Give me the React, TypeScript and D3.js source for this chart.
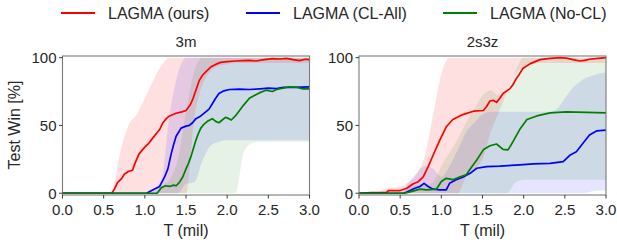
import React from 'react';
import * as d3 from 'd3';

// legend / series
const seriesNames = ['LAGMA (ours)', 'LAGMA (CL-All)', 'LAGMA (No-CL)'];
const seriesColors = ['#ff0000', '#0000ff', '#008000'];
const bandOpacity = [0.12, 0.1, 0.1];

const xTicks = [0, 0.5, 1.0, 1.5, 2.0, 2.5, 3.0];
const yTicks = [0, 50, 100];

// grid used for the shaded bands (T in million steps)
const bandT = [0, 0.1, 0.2, 0.3, 0.4, 0.5, 0.6, 0.7, 0.8, 0.9, 1.0, 1.1, 1.2, 1.3, 1.4, 1.5,
  1.6, 1.7, 1.8, 1.9, 2.0, 2.1, 2.2, 2.3, 2.4, 2.5, 2.6, 2.7, 2.8, 2.9, 3.0];

// ---- 3m ----
const ours3m: [number, number][] = [[0, 0], [0.6, 0], [0.63, 3], [0.67, 8], [0.72, 11], [0.75, 14], [0.8, 16], [0.85, 17],
  [0.88, 22], [0.93, 29], [1.0, 34], [1.05, 37], [1.1, 41], [1.18, 47], [1.22, 52], [1.26, 55], [1.3, 57], [1.38, 59],
  [1.45, 60], [1.5, 61], [1.55, 65], [1.58, 69], [1.62, 76], [1.66, 83], [1.7, 87], [1.74, 89.5], [1.8, 93], [1.86, 95],
  [1.92, 96.5], [2.0, 97], [2.1, 97.5], [2.2, 97.8], [2.27, 98], [2.35, 97.5], [2.45, 98.5], [2.55, 99.3], [2.65, 99],
  [2.72, 99.5], [2.8, 98.5], [2.88, 97.8], [2.95, 98.8], [3.0, 98.5]];
const clAll3m: [number, number][] = [[0, 0], [1.02, 0], [1.1, 2.5], [1.18, 5], [1.24, 12], [1.28, 18], [1.32, 29], [1.35, 36],
  [1.38, 42], [1.44, 48], [1.5, 49.5], [1.54, 50], [1.58, 52], [1.62, 55], [1.68, 57], [1.74, 60], [1.78, 62], [1.82, 66],
  [1.86, 70], [1.9, 73.5], [1.96, 75.5], [2.03, 76.5], [2.15, 76.8], [2.27, 76.5], [2.4, 77], [2.5, 77.5], [2.6, 77.2],
  [2.68, 78], [2.8, 78], [2.9, 78.2], [3.0, 78.5]];
const noCl3m: [number, number][] = [[0, 0], [1.15, 0], [1.2, 4], [1.25, 5.5], [1.3, 5], [1.35, 6], [1.38, 5.5], [1.42, 8],
  [1.46, 12], [1.5, 18], [1.53, 22], [1.56, 27], [1.59, 33], [1.62, 39], [1.65, 44], [1.68, 48], [1.72, 51], [1.76, 53],
  [1.82, 55], [1.86, 53], [1.9, 52], [1.94, 54], [1.98, 56], [2.02, 55], [2.05, 54], [2.1, 57], [2.15, 61], [2.2, 65],
  [2.27, 70], [2.33, 72], [2.39, 74], [2.47, 76], [2.55, 75], [2.6, 76.5], [2.68, 77.5], [2.76, 78.5], [2.85, 78],
  [2.92, 77], [3.0, 77]];

const oursLo3m = [0, 0, 0, 0, 0, 0, 0, 0, 0, 0, 0, 0, 0, 0, 0, 0, 55, 80, 90, 94, 95, 96, 96, 96, 96, 96, 96, 96, 96, 96, 96];
const oursHi3m = [0, 0, 0, 0, 0, 0, 2, 30, 50, 58, 70, 83, 94, 100, 100, 100, 100, 100, 100, 100, 100, 100, 100, 100, 100, 100, 100, 100, 100, 100, 100];
const clAllLo3m = [0, 0, 0, 0, 0, 0, 0, 0, 0, 0, 0, 0, 0, 0, 0, 7, 8, 24, 35, 38, 39, 39, 39, 39, 39, 39, 39, 39, 39, 39, 39];
const clAllHi3m = [0, 0, 0, 0, 0, 0, 0, 0, 0, 0, 0, 3, 10, 58, 88, 100, 100, 100, 100, 100, 100, 100, 100, 100, 100, 100, 100, 100, 100, 100, 100];
const noClLo3m = [0, 0, 0, 0, 0, 0, 0, 0, 0, 0, 0, 0, 0, 0, 0, 0, 0, 0, 0, 0, 0, 0, 30, 37, 38, 38, 38, 38, 38, 38, 38];
const noClHi3m = [0, 0, 0, 0, 0, 0, 0, 0, 0, 0, 0, 0, 5, 10, 25, 60, 90, 100, 100, 100, 100, 100, 100, 100, 100, 100, 100, 100, 100, 100, 100];

// ---- 2s3z ----
const ours2s3z: [number, number][] = [[0, 0], [0.15, 0.5], [0.33, 0.5], [0.36, 2], [0.5, 2], [0.58, 3.7], [0.66, 7], [0.72, 8.5],
  [0.78, 12], [0.84, 19.6], [0.9, 28], [0.98, 39], [1.06, 49], [1.14, 54.4], [1.26, 58], [1.39, 60.5], [1.51, 61],
  [1.55, 64], [1.59, 68], [1.63, 68.5], [1.67, 67], [1.71, 70], [1.75, 73.5], [1.83, 77], [1.87, 80], [1.91, 84.5],
  [1.95, 88], [1.99, 92], [2.08, 95.6], [2.2, 98.5], [2.32, 99.5], [2.44, 100], [2.52, 99.6], [2.6, 98.5], [2.68, 97.5],
  [2.74, 98], [2.8, 98.8], [2.9, 99.5], [3.0, 100]];
const clAll2s3z: [number, number][] = [[0, 0], [0.55, 0], [0.62, 2], [0.68, 3.7], [0.74, 5], [0.79, 7.3], [0.84, 5], [0.9, 3],
  [0.98, 2.5], [1.06, 2.5], [1.1, 7.3], [1.18, 10], [1.26, 11.8], [1.35, 14.7], [1.43, 18.4], [1.55, 19.6], [1.71, 20],
  [1.91, 20.8], [2.12, 21.6], [2.32, 22], [2.48, 23.3], [2.56, 28], [2.64, 30.6], [2.72, 36.8], [2.8, 43], [2.89, 46],
  [3.0, 46.5]];
const noCl2s3z: [number, number][] = [[0, 0], [0.55, 0], [0.62, 1], [0.74, 3], [0.82, 2.5], [0.94, 3], [1.0, 8.6], [1.06, 11],
  [1.14, 10], [1.22, 12], [1.3, 13.5], [1.37, 19.6], [1.43, 24.5], [1.51, 32], [1.59, 35], [1.67, 36.3], [1.75, 32.4],
  [1.81, 32], [1.87, 38], [1.96, 47.8], [2.04, 54.4], [2.16, 57], [2.32, 59.3], [2.52, 60], [3.0, 59.3]];

const oursLo2s3z = [0, 0, 0, 0, 0, 0, 0, 0, 0, 0, 0, 0, 0, 12, 18, 25, 45, 60, 75, 88, 93, 95, 96, 96, 96, 96, 96, 96, 96, 96, 96];
const oursHi2s3z = [0, 0, 0, 3, 4, 5, 8, 14, 28, 58, 88, 100, 100, 100, 100, 100, 100, 100, 100, 100, 100, 100, 100, 100, 100, 100, 100, 100, 100, 100, 100];
const clAllLo2s3z = [0, 0, 0, 0, 0, 0, 0, 0, 0, 0, 0, 0, 0, 0, 0, 0, 0, 0, 0, 0, 0, 0, 0, 0, 0, 0, 0, 0, 1, 2, 2];
const clAllHi2s3z = [0, 0, 0, 0, 0, 0, 8, 15, 20, 18, 12, 20, 32, 45, 52, 58, 60, 60, 60, 60, 60, 60, 60, 60, 62, 70, 78, 83, 86, 88, 89];
const noClLo2s3z = [0, 0, 0, 0, 0, 0, 0, 0, 0, 0, 0, 0, 0, 0, 0, 0, 0, 0, 0, 8, 10, 10, 10, 10, 10, 10, 10, 10, 10, 10, 10];
const noClHi2s3z = [0, 0, 0, 0, 0, 0, 4, 6, 6, 8, 20, 30, 40, 52, 62, 72, 76, 72, 74, 90, 100, 100, 100, 100, 100, 100, 100, 100, 100, 100, 100];

const panels = [
  {
    title: '3m', left: 62.5,
    lines: [ours3m, clAll3m, noCl3m],
    bands: [[oursLo3m, oursHi3m], [clAllLo3m, clAllHi3m], [noClLo3m, noClHi3m]],
  },
  {
    title: '2s3z', left: 359,
    lines: [ours2s3z, clAll2s3z, noCl2s3z],
    bands: [[oursLo2s3z, oursHi2s3z], [clAllLo2s3z, clAllHi2s3z], [noClLo2s3z, noClHi2s3z]],
  },
];

const W = 617;
const H = 242;
const plotW = 247;
const top = 56;
const bottom = 195;
const font = '"Liberation Sans", Arial, sans-serif';
const textColor = '#262626';
const spine = '#7a7a7a';

const Panel = ({ p, idx }: { p: typeof panels[0]; idx: number }) => {
  const x = d3.scaleLinear().domain([0, 3]).range([p.left, p.left + plotW]);
  const y = d3.scaleLinear().domain([-1.3, 101.2]).range([bottom, top]);
  const line = d3.line<[number, number]>().x(d => x(d[0])).y(d => y(d[1]));
  const area = (lo: number[], hi: number[]) =>
    d3.area<number>()
      .x(d => x(bandT[d]))
      .y0(d => y(lo[d]))
      .y1(d => y(hi[d]))
      .curve(d3.curveMonotoneX)(bandT.map((_, i) => i)) || '';
  const clipId = `clip${idx}`;
  return (
    <g>
      <defs>
        <clipPath id={clipId}>
          <rect x={p.left} y={top} width={plotW} height={bottom - top} />
        </clipPath>
      </defs>
      <g clipPath={`url(#${clipId})`}>
        {p.bands.map((b, i) => (
          <path key={'b' + i} d={area(b[0], b[1])} fill={seriesColors[i]} fillOpacity={bandOpacity[i]} stroke="none" />
        ))}
        {p.lines.map((l, i) => (
          <path key={'l' + i} d={line(l) || ''} fill="none" stroke={seriesColors[i]} strokeWidth={1.7} strokeLinejoin="round" />
        ))}
      </g>
      <rect x={p.left} y={top} width={plotW} height={bottom - top} fill="none" stroke={spine} strokeWidth={1.1} />
      {xTicks.map(t => (
        <g key={'x' + t}>
          <line x1={x(t)} x2={x(t)} y1={bottom} y2={bottom + 3.5} stroke={textColor} strokeWidth={0.9} />
          <text x={x(t)} y={215} textAnchor="middle" fontSize={15} fill={textColor} fontFamily={font}>{t.toFixed(1)}</text>
        </g>
      ))}
      {yTicks.map(t => (
        <g key={'y' + t}>
          <line x1={p.left - 3.5} x2={p.left} y1={y(t)} y2={y(t)} stroke={textColor} strokeWidth={0.9} />
          <text x={p.left - 6} y={y(t)} dy="0.36em" textAnchor="end" fontSize={15} fill={textColor} fontFamily={font}>{t}</text>
        </g>
      ))}
      <text x={p.left + plotW / 2} y={47} textAnchor="middle" fontSize={15} fill={textColor} fontFamily={font}>{p.title}</text>
      <text x={p.left + plotW / 2} y={236} textAnchor="middle" fontSize={16} fill={textColor} fontFamily={font}>T (mil)</text>
    </g>
  );
};

const legendX = [61, 246, 443];

export default function App() {
  return (
    <svg width={W} height={H} style={{ position: 'absolute', left: 0, top: 0, background: '#fff' }}>
      {seriesNames.map((n, i) => (
        <g key={n}>
          <line x1={legendX[i]} x2={legendX[i] + 34} y1={13} y2={13} stroke={seriesColors[i]} strokeWidth={1.8} />
          <text x={legendX[i] + 47} y={18.5} fontSize={16} fill={textColor} fontFamily={font}>{n}</text>
        </g>
      ))}
      {panels.map((p, i) => <Panel key={p.title} p={p} idx={i} />)}
      <text transform="translate(20,125) rotate(-90)" textAnchor="middle" fontSize={16} fill={textColor} fontFamily={font}>Test Win [%]</text>
    </svg>
  );
}
